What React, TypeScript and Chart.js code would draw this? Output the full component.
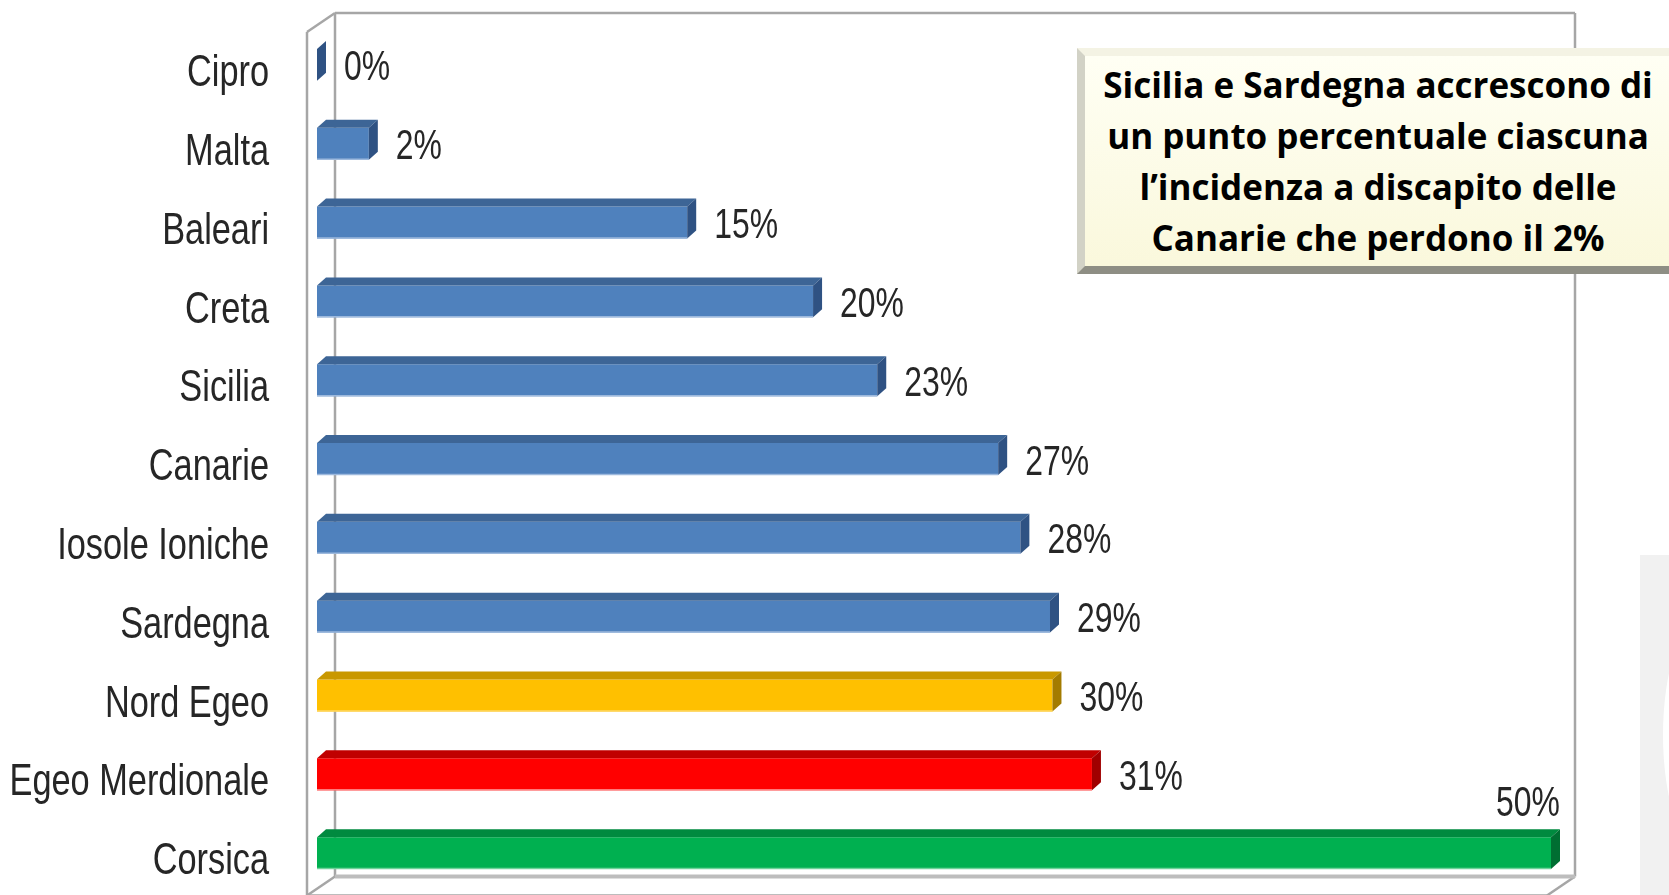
import React, { useEffect, useRef } from 'react';
import { Chart, registerables } from 'chart.js';

Chart.register(...registerables);

const categories = [
  'Cipro',
  'Malta',
  'Baleari',
  'Creta',
  'Sicilia',
  'Canarie',
  'Iosole Ioniche',
  'Sardegna',
  'Nord Egeo',
  'Egeo Merdionale',
  'Corsica',
];
const values = [0, 2.1, 15.0, 20.1, 22.7, 27.6, 28.5, 29.7, 29.8, 31.4, 50.0];
const valueLabels = ['0%', '2%', '15%', '20%', '23%', '27%', '28%', '29%', '30%', '31%', '50%'];

const frontColors = ['#4F81BD', '#4F81BD', '#4F81BD', '#4F81BD', '#4F81BD', '#4F81BD', '#4F81BD', '#4F81BD', '#FFC000', '#FF0000', '#00B050'];
const topColors = ['#3D6596', '#3D6596', '#3D6596', '#3D6596', '#3D6596', '#3D6596', '#3D6596', '#3D6596', '#C99800', '#C00000', '#008A3F'];
const sideColors = ['#2F5283', '#2F5283', '#2F5283', '#2F5283', '#2F5283', '#2F5283', '#2F5283', '#2F5283', '#A37B00', '#A00000', '#006E32'];
const edgeColors = ['#9DB9DD', '#9DB9DD', '#9DB9DD', '#9DB9DD', '#9DB9DD', '#9DB9DD', '#9DB9DD', '#9DB9DD', '#FFD966', '#FF7A7A', '#6FD39A'];

const annotationLines = [
  'Sicilia e Sardegna accrescono di',
  'un punto percentuale ciascuna',
  'l\u2019incidenza a discapito delle',
  'Canarie che perdono il 2%',
];

const FONT = "'Liberation Sans', Arial, sans-serif";
const DX = 9;
const DY = -8;

// draw condensed text (horizontally squeezed)
function narrowText(ctx: any, txt: string, x: number, y: number, size: number, sx: number, align: 'left' | 'right') {
  ctx.save();
  ctx.font = `${size}px ${FONT}`;
  ctx.textBaseline = 'middle';
  ctx.textAlign = align;
  ctx.translate(x, y);
  ctx.scale(sx, 1);
  ctx.fillText(txt, 0, 0);
  ctx.restore();
}

const bar3d = {
  id: 'bar3d',
  beforeDraw(chart: any) {
    const ctx = chart.ctx;
    ctx.save();
    ctx.fillStyle = '#F1F1F1';
    ctx.fillRect(1640, 555, 40, 345);
    ctx.fillStyle = '#FFFFFF';
    ctx.beginPath();
    ctx.ellipse(1705, 735, 42, 120, 0, 0, Math.PI * 2);
    ctx.fill();
    ctx.restore();
  },
  beforeDatasetsDraw(chart: any) {
    const ctx = chart.ctx;
    const ca = chart.chartArea;
    const backL = ca.left + 18;
    const backT = ca.top - 12.5;
    const backR = ca.right + 24;
    const backB = ca.bottom - 16;
    const frontL = backL - 28;
    const frontT = backT + 19;
    const frontB = backB + 19;
    const frontR = backR - 28;
    ctx.save();
    ctx.strokeStyle = '#A6A6A6';
    ctx.lineWidth = 2.5;
    ctx.lineJoin = 'round';
    const line = (a: number, b: number, c: number, d: number) => {
      ctx.beginPath();
      ctx.moveTo(a, b);
      ctx.lineTo(c, d);
      ctx.stroke();
    };
    line(backL, backT, backR, backT);
    line(backR, backT, backR, backB);
    line(backL, backT, backL, backB);
    line(backL, backT, frontL, frontT);
    line(frontL, frontT, frontL, frontB);
    line(backL, backB, frontL, frontB);
    line(backR, backB, frontR, frontB);
    line(frontL, frontB, frontR, frontB);
    ctx.strokeStyle = '#BDBDBD';
    ctx.lineWidth = 4;
    line(backL, backB, backR, backB);
    ctx.restore();

    // category labels, placed through the category scale
    const yScale = chart.scales.y;
    ctx.save();
    ctx.fillStyle = '#262626';
    categories.forEach((c, i) => {
      const py = yScale.getPixelForTick(i);
      narrowText(ctx, c, 269, py + 9, 44, 0.78, 'right');
    });
    ctx.restore();
  },
  afterDatasetsDraw(chart: any) {
    const ctx = chart.ctx;
    const ca = chart.chartArea;
    const meta = chart.getDatasetMeta(0);
    ctx.save();
    meta.data.forEach((el: any, i: number) => {
      const { x, y, base, height } = el.getProps(['x', 'y', 'base', 'height'], true);
      const top = y - height / 2;
      const bottom = y + height / 2;
      ctx.fillStyle = topColors[i];
      ctx.beginPath();
      ctx.moveTo(base, top);
      ctx.lineTo(x, top);
      ctx.lineTo(x + DX, top + DY);
      ctx.lineTo(base + DX, top + DY);
      ctx.closePath();
      ctx.fill();
      ctx.fillStyle = sideColors[i];
      ctx.beginPath();
      ctx.moveTo(x, top);
      ctx.lineTo(x + DX, top + DY);
      ctx.lineTo(x + DX, bottom + DY);
      ctx.lineTo(x, bottom);
      ctx.closePath();
      ctx.fill();
      if (x - base > 2) {
        ctx.strokeStyle = edgeColors[i];
        ctx.lineWidth = 1.5;
        ctx.beginPath();
        ctx.moveTo(base, bottom - 0.5);
        ctx.lineTo(x, bottom - 0.5);
        ctx.stroke();
      }
      const txt = valueLabels[i];
      const size = 42;
      const sx = 0.76;
      ctx.font = `${size}px ${FONT}`;
      const w = ctx.measureText(txt).width * sx;
      ctx.fillStyle = '#262626';
      if (x + DX + 18 + w > ca.right + 24) {
        narrowText(ctx, txt, x + DX, top - 33, size, sx, 'right');
      } else {
        narrowText(ctx, txt, x + DX + 18, y + 4, size, sx, 'left');
      }
    });
    ctx.restore();
  },
};

export default function App() {
  const canvasRef = useRef<HTMLCanvasElement | null>(null);

  useEffect(() => {
    if (!canvasRef.current) return;
    const chart = new Chart(canvasRef.current, {
      type: 'bar',
      data: {
        labels: categories,
        datasets: [
          {
            data: values,
            backgroundColor: frontColors,
            borderWidth: 0,
            barPercentage: 0.405,
            categoryPercentage: 1,
          },
        ],
      },
      options: {
        indexAxis: 'y',
        animation: false,
        responsive: false,
        maintainAspectRatio: false,
        layout: { padding: { top: 25.5, bottom: 2.5, right: 118, left: 0 } },
        plugins: {
          legend: { display: false },
          tooltip: { enabled: false },
        },
        scales: {
          x: {
            min: 0,
            max: 50,
            display: false,
          },
          y: {
            grid: { display: false, drawTicks: false },
            border: { display: false },
            ticks: { display: false },
            afterFit: (scale: any) => {
              scale.width = 317;
            },
          },
        },
      },
      plugins: [bar3d],
    } as any);
    return () => chart.destroy();
  }, []);

  return (
    <div style={{ position: 'fixed', left: 0, top: 0, width: 1669, height: 895, background: '#FFFFFF', overflow: 'hidden' }}>
      <canvas ref={canvasRef} width={1669} height={895} style={{ position: 'absolute', left: 0, top: 0 }} />
      <div
        style={{
          position: 'absolute',
          left: 1077,
          top: 48,
          width: 602,
          height: 226,
          boxSizing: 'border-box',
          borderStyle: 'solid',
          borderWidth: 8,
          borderColor: '#F4F3E4 #B8B8AC #8E8E84 #D2D2C6',
          background: 'linear-gradient(#FFFFF4, #FAF8DC)',
          display: 'flex',
          flexDirection: 'column',
          justifyContent: 'center',
          alignItems: 'center',
          fontFamily: "'Open Sans', Lato, sans-serif",
          fontWeight: 700,
          fontSize: 35,
          lineHeight: '51px',
          color: '#000000',
          textAlign: 'center',
          whiteSpace: 'nowrap',
        }}
      >
        {annotationLines.map((l, i) => (
          <div key={i}>{l}</div>
        ))}
      </div>
    </div>
  );
}
